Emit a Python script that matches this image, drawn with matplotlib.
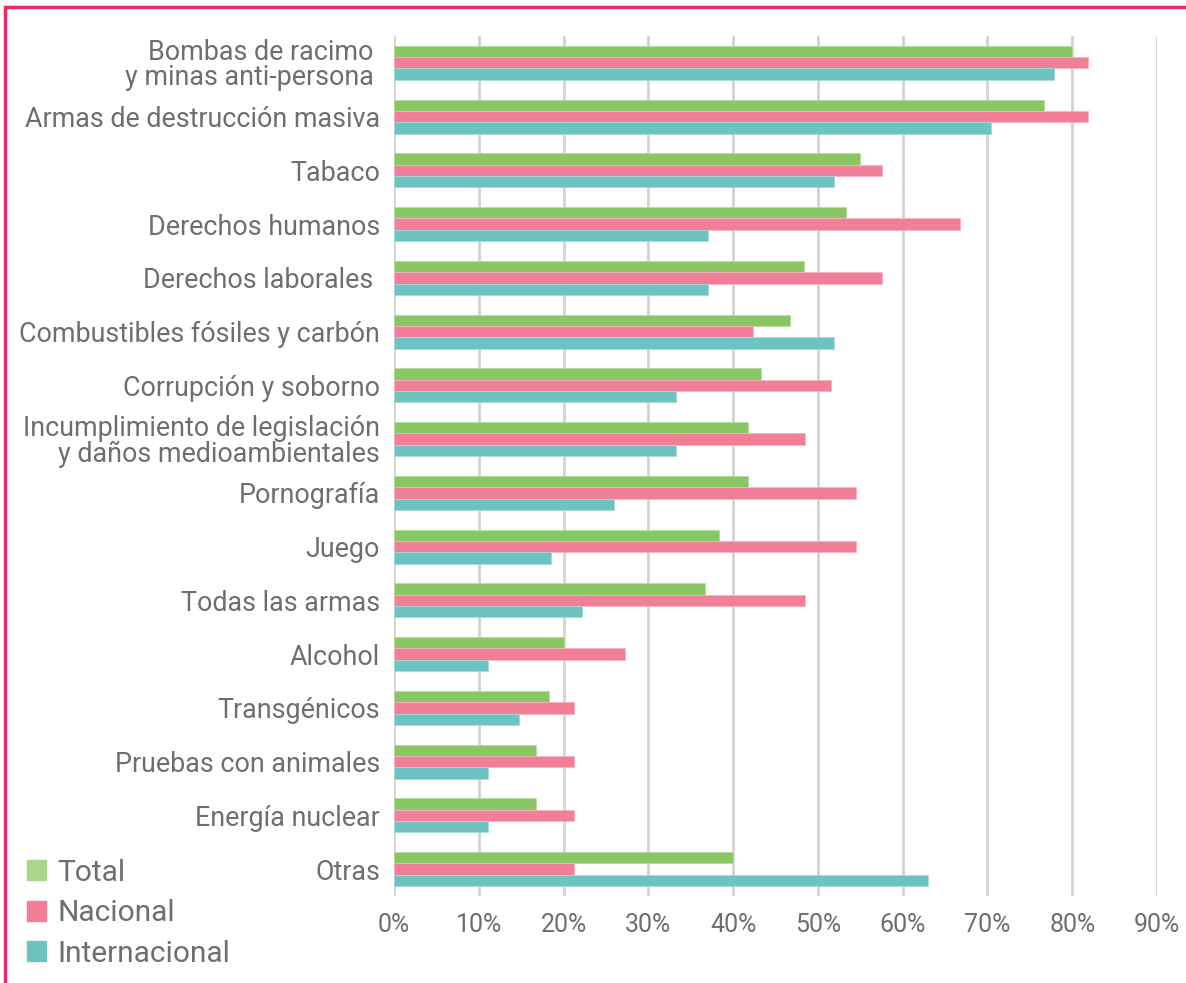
import matplotlib.pyplot as plt
import numpy as np
from matplotlib.patches import Patch

categorias = ["Bombas de racimo \ny minas anti-persona ",
              "Armas de destrucción masiva",
              "Tabaco",
              "Derechos humanos",
              "Derechos laborales ",
              "Combustibles fósiles y carbón",
              "Corrupción y soborno",
              "Incumplimiento de legislación\ny daños medioambientales",
              "Pornografía",
              "Juego",
              "Todas las armas",
              "Alcohol",
              "Transgénicos",
              "Pruebas con animales",
              "Energía nuclear",
              "Otras"]

total = [80.0, 76.7, 55.0, 53.3, 48.3, 46.7, 43.3, 41.7, 41.7, 38.3, 36.7, 20.0, 18.3, 16.7, 16.7, 40.0]
nacional = [81.8, 81.8, 57.6, 66.7, 57.6, 42.4, 51.5, 48.5, 54.5, 54.5, 48.5, 27.3, 21.2, 21.2, 21.2, 21.2]
internacional = [77.8, 70.4, 51.9, 37.0, 37.0, 51.9, 33.3, 33.3, 25.9, 18.5, 22.2, 11.1, 14.8, 11.1, 11.1, 63.0]

ticks = [0, 10, 20, 30, 40, 50, 60, 70, 80, 90]

verde = "#88C764"
rosa = "#F27F98"
turquesa = "#6CC3C1"
gris_texto = "#6D6E71"
borde = "#EC2B62"

plt.rcParams['font.family'] = ['Roboto', 'DejaVu Sans']

fig = plt.figure(figsize=(11.86, 9.83), dpi=100)
ax = fig.add_axes([0.3322, 0.0885, 0.9756 - 0.3322, 0.9634 - 0.0885])

y = np.arange(len(categorias))
h = 0.21
ax.barh(y - h, total, height=h, color=verde, edgecolor="#B5DDA0", linewidth=0.6, zorder=3)
ax.barh(y, nacional, height=h, color=rosa, edgecolor="#F8B3C2", linewidth=0.6, zorder=3)
ax.barh(y + h, internacional, height=h, color=turquesa, edgecolor="#A6DBD9", linewidth=0.6, zorder=3)

ax.set_ylim(len(categorias) - 0.5, -0.5)
ax.set_xlim(0, 90)
ax.set_yticks(y)
ax.set_yticklabels(categorias, fontsize=19.4, color=gris_texto, linespacing=0.92)
ax.set_xticks(ticks)
ax.set_xticklabels([f"{t}%" for t in ticks], fontsize=18, color=gris_texto,
                   family=['Liberation Sans Narrow', 'Roboto'])
ax.tick_params(axis='y', length=0, pad=10)
ax.tick_params(axis='x', length=0, pad=12)

for s in ax.spines.values():
    s.set_visible(False)
ax.xaxis.grid(True, color="#D3D3D3", linewidth=2)
ax.set_axisbelow(True)

# pink frame around the chart
fig.add_artist(plt.Rectangle((5 / 1186, -0.05), 1.2, 1.05 - 7 / 983, transform=fig.transFigure,
                             fill=False, edgecolor=borde, linewidth=2.5))

handles = [Patch(color="#A9D68B"), Patch(color=rosa), Patch(color=turquesa)]
fig.legend(handles, ["Total", "Nacional", "Internacional"], loc="lower left",
           bbox_to_anchor=(0.0, -0.012), frameon=False, fontsize=21.5,
           handlelength=0.65, handleheight=0.65, handletextpad=0.38, labelspacing=0.42,
           labelcolor=gris_texto)

fig.savefig("out.png", dpi=100)
